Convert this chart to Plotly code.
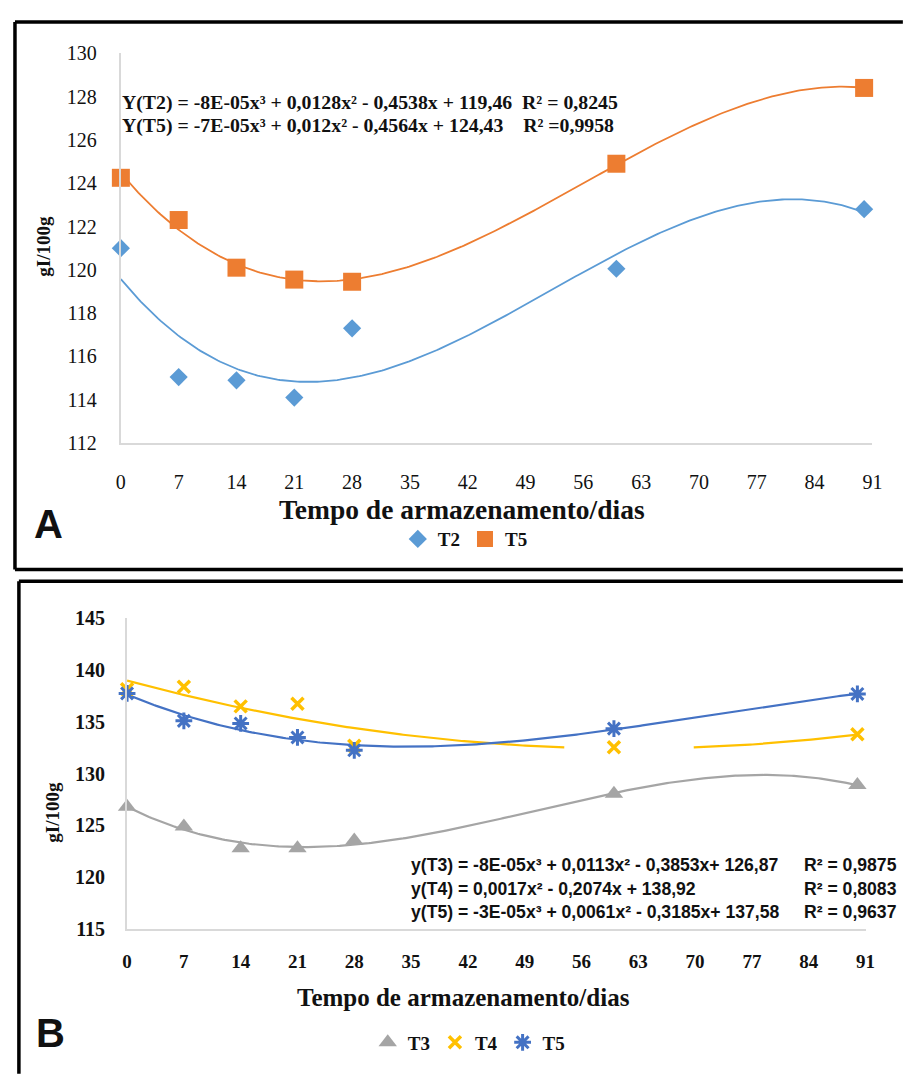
import numpy as np
import plotly.graph_objects as go

# figure is 16px smaller than the window so that the page body margin (8px) fits
W, H = 897, 1069
OFF = 8

# ---------------- data ----------------
days = [0, 7, 14, 21, 28, 60, 90]
tick_days = [0, 7, 14, 21, 28, 35, 42, 49, 56, 63, 70, 77, 84, 91]

# Panel A (gI/100g)
t2_a = [121.0, 115.05, 114.9, 114.1, 117.3, 120.05, 122.8]
t5_a = [124.25, 122.3, 120.1, 119.55, 119.45, 124.9, 128.4]
yticks_a = [112, 114, 116, 118, 120, 122, 124, 126, 128, 130]

# Panel B (gI/100g)
t3_b = [126.8, 124.9, 122.8, 122.8, 123.55, 128.05, 128.9]
t4_b = [138.15, 138.4, 136.5, 136.75, 132.7, 132.55, 133.8]
t5_b = [137.75, 135.1, 134.85, 133.5, 132.25, 134.35, 137.7]
yticks_b = [115, 120, 125, 130, 135, 140, 145]

eq_a = ["Y(T2) = -8E-05x³ + 0,0128x² - 0,4538x + 119,46  R² = 0,8245",
        "Y(T5) = -7E-05x³ + 0,012x² - 0,4564x + 124,43    R² =0,9958"]
eq_b = ["y(T3) = -8E-05x³ + 0,0113x² - 0,3853x+ 126,87",
        "y(T4) = 0,0017x² - 0,2074x + 138,92",
        "y(T5) = -3E-05x³ + 0,0061x² - 0,3185x+ 137,58"]
r2_b = ["R² = 0,9875", "R² = 0,8083", "R² = 0,9637"]

x_title = "Tempo de armazenamento/dias"
y_title = "gI/100g"

# ---------------- helpers ----------------
SERIF = "Liberation Serif, Times New Roman, serif"
SANS = "Liberation Sans, Arial, sans-serif"


def px(x):
    return (x - OFF) / W


def py(y):
    return 1 - (y - OFF) / H


def trend(x, y, deg, gap=None):
    c = np.polyfit(x, y, deg)
    xs = np.linspace(min(x), max(x), 300)
    ys = np.polyval(c, xs)
    ys = [None if (gap and gap[0] < xv < gap[1]) else float(yv) for xv, yv in zip(xs, ys)]
    return xs, ys


fig = go.Figure()

# ---------------- Panel A ----------------
c_t2, c_t5a = "#5B9BD5", "#ED7D31"
for yv, col in [(t2_a, c_t2), (t5_a, c_t5a)]:
    xs, ys = trend(days, yv, 3)
    fig.add_trace(go.Scatter(x=xs, y=ys, mode="lines", line=dict(color=col, width=1.8),
                             showlegend=False, xaxis="x", yaxis="y", hoverinfo="skip"))
fig.add_trace(go.Scatter(x=days, y=t2_a, mode="markers", name="T2",
                         marker=dict(symbol="diamond", size=14, color=c_t2),
                         xaxis="x", yaxis="y", legend="legend", cliponaxis=False))
fig.add_trace(go.Scatter(x=days, y=t5_a, mode="markers", name="T5",
                         marker=dict(symbol="square", size=18, color=c_t5a),
                         xaxis="x", yaxis="y", legend="legend", cliponaxis=False))

# ---------------- Panel B ----------------
c_t3, c_t4, c_t5b = "#A5A5A5", "#FFC000", "#4472C4"
for yv, col, deg, gap in [(t3_b, c_t3, 3, None), (t4_b, c_t4, 2, (54, 69.6)), (t5_b, c_t5b, 3, None)]:
    xs, ys = trend(days, yv, deg, gap)
    fig.add_trace(go.Scatter(x=xs, y=ys, mode="lines", line=dict(color=col, width=2.2),
                             connectgaps=False, showlegend=False, xaxis="x2", yaxis="y2",
                             hoverinfo="skip"))
fig.add_trace(go.Scatter(x=days, y=t3_b, mode="markers", name="T3",
                         marker=dict(symbol="triangle-up", size=16, color=c_t3),
                         xaxis="x2", yaxis="y2", legend="legend2", cliponaxis=False))
fig.add_trace(go.Scatter(x=days, y=t4_b, mode="markers", name="T4",
                         marker=dict(symbol="x-thin-open", size=12, color=c_t4,
                                     line=dict(color=c_t4, width=3.5)),
                         xaxis="x2", yaxis="y2", legend="legend2", cliponaxis=False))
fig.add_trace(go.Scatter(x=days, y=t5_b, mode="markers", name="T5",
                         marker=dict(symbol="asterisk-open", size=14, color=c_t5b,
                                     line=dict(color=c_t5b, width=3)),
                         xaxis="x2", yaxis="y2", legend="legend2", cliponaxis=False))

# ---------------- axes ----------------
axis_common = dict(showline=True, linecolor="#d9d9d9", linewidth=2, showgrid=False,
                   zeroline=False, ticks="outside", tickcolor="rgba(0,0,0,0)")

xa = dict(domain=[px(117.7), px(882)], range=[0, 91])
ya = dict(domain=[py(441), py(43)], range=[112, 130])
xb = dict(domain=[px(124), px(875)], range=[0, 91])
yb = dict(domain=[py(937), py(620)], range=[115, 145])

fig.update_layout(
    width=W, height=H, margin=dict(l=0, r=0, t=0, b=0),
    paper_bgcolor="white", plot_bgcolor="white",
    xaxis=dict(**axis_common, **xa, anchor="y", tickvals=tick_days, ticklen=20,
               tickfont=dict(family=SERIF, size=20, color="#111")),
    yaxis=dict(**axis_common, **ya, anchor="x", tickvals=yticks_a, ticklen=18,
               tickfont=dict(family=SERIF, size=20, color="#111")),
    xaxis2=dict(**axis_common, **xb, anchor="y2", tickvals=tick_days, ticklen=14,
                tickfont=dict(family=SERIF, size=19, color="#111", weight="bold")),
    yaxis2=dict(**axis_common, **yb, anchor="x2", tickvals=yticks_b, ticklen=16,
                tickfont=dict(family=SERIF, size=20, color="#111", weight="bold")),
    legend=dict(orientation="h", x=px(468), xanchor="center", y=py(539), yanchor="middle",
                font=dict(family=SERIF, size=19, color="#111", weight="bold"),
                itemwidth=30, bgcolor="rgba(0,0,0,0)", tracegroupgap=0),
    legend2=dict(orientation="h", x=px(472), xanchor="center", y=py(1053), yanchor="middle",
                 font=dict(family=SERIF, size=19, color="#111", weight="bold"),
                 itemwidth=30, bgcolor="rgba(0,0,0,0)", tracegroupgap=0),
)

ann = []
# Panel A texts
for i, t in enumerate(eq_a):
    ann.append(dict(text=t, x=px(117), y=py(93 + 24 * i), xanchor="left", yanchor="middle",
                    font=dict(family=SERIF, size=19.8, color="#111", weight="bold")))
ann.append(dict(text=x_title, x=px(465), y=py(509), xanchor="center", yanchor="middle",
                font=dict(family=SERIF, size=27.5, color="#111", weight="bold")))
ann.append(dict(text=y_title, x=px(39), y=py(240), xanchor="center", yanchor="middle",
                textangle=-90, font=dict(family=SERIF, size=19, color="#111", weight="bold")))
ann.append(dict(text="A", x=px(44), y=py(524), xanchor="center", yanchor="middle",
                font=dict(family=SANS, size=40, color="#111", weight="bold")))
# Panel B texts
for i, (t, r) in enumerate(zip(eq_b, r2_b)):
    yy = py(872 + 24 * i)
    ann.append(dict(text=t, x=px(411), y=yy, xanchor="left", yanchor="middle",
                    font=dict(family=SANS, size=17.6, color="#111", weight="bold")))
    ann.append(dict(text=r, x=px(909), y=yy, xanchor="right", yanchor="middle",
                    font=dict(family=SANS, size=17.6, color="#111", weight="bold")))
ann.append(dict(text=x_title, x=px(466), y=py(1007), xanchor="center", yanchor="middle",
                font=dict(family=SERIF, size=25, color="#111", weight="bold")))
ann.append(dict(text=y_title, x=px(48), y=py(818), xanchor="center", yanchor="middle",
                textangle=-90, font=dict(family=SERIF, size=19, color="#111", weight="bold")))
ann.append(dict(text="B", x=px(46), y=py(1043), xanchor="center", yanchor="middle",
                font=dict(family=SANS, size=40, color="#111", weight="bold")))
for a in ann:
    a.update(xref="paper", yref="paper", showarrow=False)
fig.update_layout(annotations=ann)

# frame lines around the two panels
lines = [
    (10, 11, 913, 11), (10, 11, 10, 570), (10, 570, 913, 570),
    (14, 582, 913, 582), (14, 582, 14, 1085),
]
fig.update_layout(shapes=[dict(type="line", xref="paper", yref="paper",
                               x0=px(a), y0=py(b), x1=px(c), y1=py(d),
                               line=dict(color="black", width=3.5)) for a, b, c, d in lines])

fig.write_html("out.html")
